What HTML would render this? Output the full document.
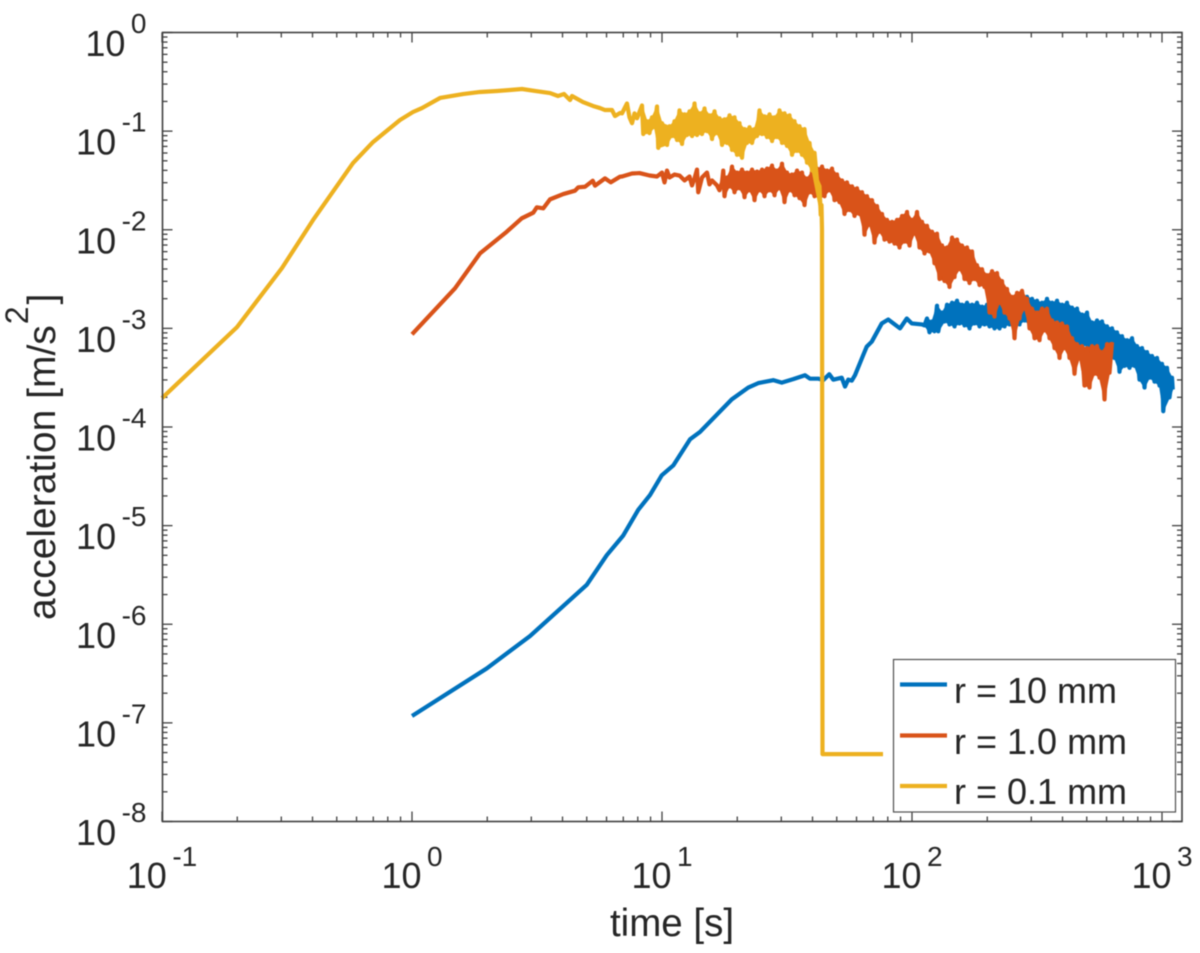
<!DOCTYPE html>
<html lang="en">
<head>
<meta charset="utf-8">
<title>Acceleration vs time</title>
<style>
  html, body { margin: 0; padding: 0; background: #fff; }
  svg { display: block; font-family: "Liberation Sans", Arial, sans-serif; filter: blur(0.5px); }
  text { fill: #262626; }
</style>
</head>
<body>
<svg id="chart" xmlns="http://www.w3.org/2000/svg" width="1200" height="953" viewBox="0 0 1200 953">
  <rect x="0" y="0" width="1200" height="953" fill="#fff"/>
  <g id="ticks" stroke="#404040" stroke-width="1.3"></g>
  <g id="tick-labels"></g>
  <g id="series" fill="none" stroke-width="4.2" stroke-linejoin="round"></g>
  <rect x="162.5" y="32.5" width="1019.5" height="789" fill="none" stroke="#404040" stroke-width="1.6"/>
  <text x="672" y="936" font-size="38.5" text-anchor="middle">time [s]</text>
  <text transform="translate(55 620) rotate(-90)" font-size="39">acceleration [m/s<tspan font-size="32" dx="1" dy="-27">2</tspan><tspan dx="2" dy="27">]</tspan></text>
  <g>
    <rect x="893.5" y="659.5" width="282" height="152.5" fill="#fff" stroke="#505050" stroke-width="1.2"/>
    <line x1="900" x2="947" y1="684.5" y2="684.5" stroke="#0072BD" stroke-width="4.2"/>
    <text x="954" y="703" font-size="36">r = 10 mm</text>
    <line x1="900" x2="947" y1="735.5" y2="735.5" stroke="#D95319" stroke-width="4.2"/>
    <text x="954" y="754" font-size="36">r = 1.0 mm</text>
    <line x1="900" x2="947" y1="786" y2="786" stroke="#EDB120" stroke-width="4.2"/>
    <text x="954" y="804" font-size="36">r = 0.1 mm</text>
  </g>
</svg>
<script>
// All series values are log10(time [s]) and log10(acceleration [m/s^2]).
const xTickExponents = [-1, 0, 1, 2, 3];
const yTickExponents = [0, -1, -2, -3, -4, -5, -6, -7, -8];
const minorFactors = [2, 3, 4, 5, 6, 7, 8, 9];

const blueLogTime = [
  0,.299,.472,.699,.779,.845,.905,.952,.999,1.045,
  1.112,1.152,1.279,1.345,1.385,1.445,1.479,1.525,1.572,1.592,
  1.625,1.645,1.669,1.685,1.719,1.732,1.745,1.759,1.772,1.805,
  1.819,1.839,1.879,1.905,1.952,1.979,1.999,2.04,
  2.05,2.06,2.07,2.08,2.09,2.10,2.105,2.12,2.13,2.14,
  2.15,2.16,2.17,2.18,2.19,2.20,2.21,2.22,2.23,2.24,
  2.25,2.26,2.27,2.28,2.29,2.30,2.31,2.32,2.33,2.34,
  2.35,2.36,2.37,2.38,2.39,2.40,2.41,2.42,2.43,2.44,
  2.45,2.46,2.47,2.48,2.49,2.50,2.51,2.52,2.53,2.54,
  2.55,2.56,2.57,2.58,2.59,2.60,2.61,2.62,2.63,2.64,
  2.65,2.66,2.67,2.68,2.69,2.70,2.71,2.72,2.73,2.74,
  2.75,2.76,2.77,2.78,2.79,2.80,2.81,2.82,2.83,2.84,
  2.85,2.86,2.87,2.88,2.89,2.90,2.91,2.92,2.93,2.94,
  2.95,2.96,2.97,2.98,2.99,3.00,3.005,3.02,3.03,3.04,3.043
];
const blueLogAccel = [
  -6.93,-6.448,-6.12,-5.60,-5.30,-5.10,-4.84,-4.69,-4.49,-4.39,
  -4.125,-4.05,-3.72,-3.60,-3.555,-3.525,-3.55,-3.515,-3.475,-3.51,
  -3.51,-3.525,-3.465,-3.52,-3.50,-3.59,-3.52,-3.53,-3.475,-3.27,
  -3.185,-3.135,-2.95,-2.91,-3.0,-2.90,-2.95,-2.96,
  -2.97,-2.90,-3.04,-2.93,-3.03,-2.77,-3.03,-2.84,-2.93,-2.76,
  -2.96,-2.74,-2.98,-2.72,-2.95,-2.76,-2.97,-2.74,-3.0,-2.76,
  -2.95,-2.74,-2.98,-2.78,-2.96,-2.76,-2.98,-2.78,-3.0,-2.76,
  -3.0,-2.74,-2.98,-2.72,-2.96,-2.70,-2.98,-2.68,-2.96,-2.66,
  -2.92,-2.68,-2.96,-2.70,-2.92,-2.72,-2.95,-2.74,-2.98,-2.70,
  -3.0,-2.74,-3.02,-2.72,-3.04,-2.76,-3.06,-2.74,-3.10,-2.79,
  -3.16,-2.80,-3.18,-2.86,-3.16,-2.84,-3.22,-2.94,-3.18,-2.92,
  -3.24,-2.93,-3.26,-2.98,-3.32,-3.0,-3.30,-3.04,-3.44,-3.08,
  -3.38,-3.12,-3.40,-3.10,-3.38,-3.18,-3.52,-3.20,-3.60,-3.24,
  -3.50,-3.28,-3.54,-3.30,-3.58,-3.36,-3.84,-3.40,-3.70,-3.50,-3.62
];

const redLogTime = [
  0,.172,.272,.379,.439,.485,.499,.525,.552,.605,
  .652,.665,.692,.723,.732,.772,.795,.832,.84,.88,
  .91,.95,.98,1.00,1.01,1.02,1.03,1.05,1.07,1.09,
  1.11,1.12,1.13,1.14,1.145,1.16,1.18,1.19,1.20,1.22,
  1.23,1.24,1.245,1.25,1.26,1.27,
  1.28,1.29,1.30,1.31,1.32,1.33,1.34,1.35,1.36,1.37,
  1.38,1.39,1.40,1.41,1.42,1.43,1.44,1.45,1.46,1.47,
  1.48,1.49,1.50,1.51,1.52,1.53,1.54,1.55,1.56,1.57,
  1.58,1.59,1.60,1.61,1.62,1.63,1.64,1.65,1.66,1.67,
  1.68,1.69,1.70,1.71,1.72,1.73,1.74,1.75,1.76,1.77,
  1.78,1.79,1.80,1.81,1.82,1.83,1.84,1.85,1.86,1.87,
  1.88,1.89,1.90,1.91,1.92,1.93,1.94,1.95,1.96,1.97,
  1.98,1.99,2.00,2.01,2.02,2.03,2.04,2.05,2.06,2.07,
  2.08,2.09,2.10,2.11,2.12,2.13,2.14,2.15,2.16,2.17,
  2.18,2.19,2.20,2.21,2.22,2.23,2.24,2.25,2.26,2.27,
  2.28,2.29,2.30,2.31,2.32,2.33,2.34,2.35,2.36,2.37,
  2.38,2.39,2.40,2.41,2.42,2.43,2.44,2.45,2.46,2.47,
  2.48,2.49,2.50,2.51,2.52,2.53,2.54,2.55,2.56,2.57,
  2.58,2.59,2.60,2.61,2.62,2.63,2.64,2.65,2.66,2.67,
  2.68,2.69,2.70,2.71,2.72,2.73,2.74,2.75,2.76,2.77,
  2.78,2.79,2.80
];
const redLogAccel = [
  -3.06,-2.594,-2.24,-2.02,-1.884,-1.827,-1.773,-1.783,-1.692,-1.638,
  -1.604,-1.57,-1.564,-1.503,-1.553,-1.479,-1.519,-1.462,-1.46,-1.43,
  -1.425,-1.45,-1.46,-1.42,-1.52,-1.40,-1.47,-1.44,-1.45,-1.50,
  -1.46,-1.55,-1.48,-1.39,-1.62,-1.47,-1.42,-1.54,-1.50,-1.55,
  -1.60,-1.52,-1.40,-1.66,-1.47,-1.56,
  -1.36,-1.62,-1.42,-1.58,-1.39,-1.67,-1.42,-1.60,-1.39,-1.70,
  -1.41,-1.60,-1.39,-1.66,-1.38,-1.60,-1.35,-1.65,-1.40,-1.58,
  -1.33,-1.72,-1.42,-1.60,-1.44,-1.65,-1.40,-1.68,-1.42,-1.75,
  -1.48,-1.62,-1.41,-1.66,-1.38,-1.68,-1.36,-1.66,-1.40,-1.60,
  -1.38,-1.70,-1.44,-1.72,-1.50,-1.84,-1.52,-1.80,-1.56,-1.86,
  -1.58,-1.84,-1.62,-2.05,-1.66,-1.95,-1.70,-2.13,-1.76,-2.02,
  -1.84,-2.10,-1.90,-2.12,-1.92,-2.14,-1.90,-2.18,-1.86,-2.12,
  -1.82,-2.16,-1.90,-2.04,-1.82,-2.18,-1.92,-2.24,-1.96,-2.22,
  -2.02,-2.34,-2.04,-2.50,-2.16,-2.52,-2.18,-2.58,-2.08,-2.48,
  -2.10,-2.40,-2.16,-2.50,-2.18,-2.54,-2.22,-2.50,-2.36,-2.56,
  -2.40,-2.58,-2.46,-2.84,-2.42,-2.88,-2.44,-2.74,-2.52,-2.84,
  -2.60,-2.90,-2.68,-3.10,-2.64,-2.90,-2.62,-2.80,-2.70,-3.0,
  -2.80,-3.10,-2.84,-3.12,-2.80,-3.02,-2.80,-3.10,-2.92,-3.20,
  -2.94,-3.30,-2.95,-3.20,-2.98,-3.30,-3.10,-3.46,-3.16,-3.30,
  -3.18,-3.58,-3.20,-3.60,-3.18,-3.46,-3.18,-3.50,-3.24,-3.72,
  -3.16,-3.45,-3.14
];

const yellowLogTime = [
  -1,-.7,-.52,-.396,-.236,-.156,-.048,.004,.04,.112,
  .204,.272,.34,.392,.44,.492,.552,.584,.608,.632,
  .64,.684,.724,.752,.772,.8,.812,.832,.84,.86,
  .87,.88,.89,.9,.92,.925,.94,.95,.96,.97,
  .98,.985,1,1.01,
  1.02,1.03,1.04,1.05,1.06,1.07,1.08,1.09,1.10,1.11,
  1.12,1.13,1.14,1.15,1.16,1.17,1.18,1.19,1.20,1.21,
  1.22,1.23,1.24,1.25,1.26,1.27,1.28,1.29,1.30,1.31,
  1.32,1.33,1.34,1.35,1.36,1.37,1.38,1.39,1.40,1.41,
  1.42,1.43,1.44,1.45,1.46,1.47,1.48,1.49,1.50,1.51,
  1.52,1.53,1.54,1.55,1.56,1.57,1.58,1.59,1.60,1.61,
  1.62,1.63,1.635,1.638,1.64,1.642,1.884
];
const yellowLogAccel = [
  -3.707,-2.987,-2.388,-1.902,-1.324,-1.111,-.887,-.806,-.766,-.664,
  -.624,-.603,-.593,-.583,-.573,-.593,-.614,-.644,-.624,-.685,
  -.644,-.705,-.745,-.766,-.786,-.786,-.847,-.816,-.82,-.72,
  -.86,-.92,-.82,-.87,-.74,-1.03,-.90,-1.02,-.86,-.96,
  -.75,-1.17,-.92,-.98,
  -1.14,-.95,-1.05,-.90,-1.09,-.79,-1.13,-.83,-1.04,-.80,
  -1.05,-.72,-1.04,-.82,-1.03,-.77,-1.00,-.84,-1.08,-.80,
  -1.02,-.87,-1.14,-.88,-1.12,-.84,-1.19,-.86,-1.24,-.92,
  -1.27,-.98,-1.12,-.96,-1.12,-.98,-1.05,-.79,-1.03,-.85,
  -1.06,-.83,-1.10,-.86,-1.06,-.79,-1.12,-.82,-1.15,-.84,
  -1.24,-.90,-1.20,-.95,-1.24,-.98,-1.32,-1.12,-1.40,-1.22,
  -1.50,-1.56,-1.85,-1.75,-2.00,-7.317,-7.317
];

const SVG_NS = 'http://www.w3.org/2000/svg';
const plotLeft = 162.5, plotRight = 1182, plotTop = 32.5, plotBottom = 821.5;
const xDecade = 250, yDecade = 98.625;
function xScale(logT) { return 412 + xDecade * logT; }
function yScale(logA) { return plotTop - yDecade * logA; }

const tickGroup = document.getElementById('ticks');
const labelGroup = document.getElementById('tick-labels');
const seriesGroup = document.getElementById('series');

function tickLine(x1, y1, x2, y2, major) {
  const el = document.createElementNS(SVG_NS, 'line');
  el.setAttribute('x1', x1);
  el.setAttribute('y1', y1);
  el.setAttribute('x2', x2);
  el.setAttribute('y2', y2);
  
  
  tickGroup.appendChild(el);
}

function powerLabel(exp, x, y, anchor, supDy, name) {
  const t = document.createElementNS(SVG_NS, 'text');
  t.setAttribute('x', x);
  t.setAttribute('y', y);
  t.setAttribute('font-size', '36');
  t.setAttribute('text-anchor', anchor);
  
  
  t.appendChild(document.createTextNode('10'));
  const s = document.createElementNS(SVG_NS, 'tspan');
  s.setAttribute('font-size', '28');
  s.setAttribute('dx', '5.5');
  s.setAttribute('dy', supDy);
  s.textContent = String(exp);
  t.appendChild(s);
  labelGroup.appendChild(t);
}

xTickExponents.forEach(function (e) {
  const x = xScale(e);
  tickLine(x, plotBottom, x, plotBottom - 10, true);
  tickLine(x, plotTop, x, plotTop + 10, true);
  powerLabel(e, x, 888, 'middle', -22, 'x-tick-label');
  if (e < xTickExponents[xTickExponents.length - 1]) {
    minorFactors.forEach(function (m) {
      const mx = xScale(e + Math.log10(m));
      tickLine(mx, plotBottom, mx, plotBottom - 5, false);
      tickLine(mx, plotTop, mx, plotTop + 5, false);
    });
  }
});

yTickExponents.forEach(function (e) {
  const y = yScale(e);
  tickLine(plotLeft, y, plotLeft + 10, y, true);
  tickLine(plotRight, y, plotRight - 10, y, true);
  powerLabel(e, 146.5, y + 23.5, 'end', -23, 'y-tick-label');
  if (e > yTickExponents[yTickExponents.length - 1]) {
    minorFactors.forEach(function (m) {
      const my = yScale(e - 1 + Math.log10(m));
      tickLine(plotLeft, my, plotLeft + 5, my, false);
      tickLine(plotRight, my, plotRight - 5, my, false);
    });
  }
});

// Fills the gap between the peaks and troughs of the oscillating part of a series.
function drawBand(times, values, fromLogT, toLogT, color, name) {
  const tops = [];
  const bottoms = [];
  times.forEach(function (t, i) {
    if (t < fromLogT || t > toLogT) return;
    const prev = i > 0 ? values[i - 1] : values[i];
    const next = i < values.length - 1 ? values[i + 1] : values[i];
    const pt = xScale(t).toFixed(2) + ' ' + yScale(values[i]).toFixed(2);
    if (values[i] >= prev && values[i] >= next) tops.push(pt);
    if (values[i] <= prev && values[i] <= next) bottoms.push(pt);
  });
  const p = document.createElementNS(SVG_NS, 'path');
  p.setAttribute('d', 'M' + tops.concat(bottoms.reverse()).join('L') + 'Z');
  p.setAttribute('fill', color);
  p.setAttribute('stroke', color);
  p.setAttribute('stroke-width', '1');
  
  
  seriesGroup.appendChild(p);
}

function drawSeries(times, values, color, name) {
  const d = times.map(function (t, i) {
    return (i ? 'L' : 'M') + xScale(t).toFixed(2) + ' ' + yScale(values[i]).toFixed(2);
  }).join('');
  const p = document.createElementNS(SVG_NS, 'path');
  p.setAttribute('d', d);
  p.setAttribute('stroke', color);
  
  
  seriesGroup.appendChild(p);
}

drawBand(blueLogTime, blueLogAccel, 2.05, 3.05, '#0072BD', 'band-r-10-mm');
drawSeries(blueLogTime, blueLogAccel, '#0072BD', 'series-r-10-mm');
drawBand(redLogTime, redLogAccel, 1.25, 2.8, '#D95319', 'band-r-1-mm');
drawSeries(redLogTime, redLogAccel, '#D95319', 'series-r-1-mm');
drawBand(yellowLogTime, yellowLogAccel, 0.92, 1.64, '#EDB120', 'band-r-0-1-mm');
drawSeries(yellowLogTime, yellowLogAccel, '#EDB120', 'series-r-0-1-mm');
</script>
</body>
</html>
